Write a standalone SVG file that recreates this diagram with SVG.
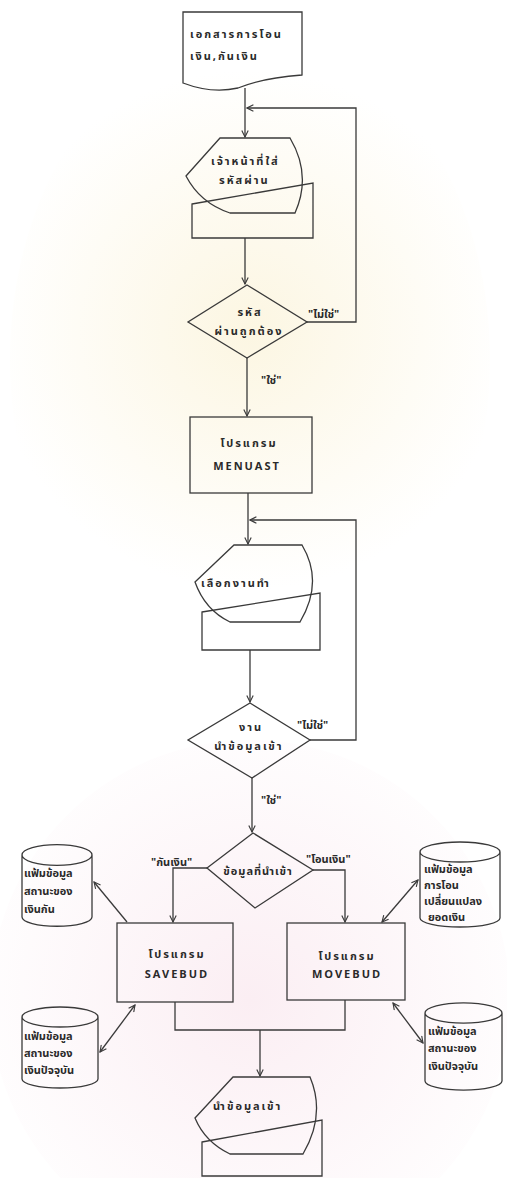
<svg xmlns="http://www.w3.org/2000/svg" width="507" height="1178" viewBox="0 0 507 1178">
<defs>
<style>
.s{fill:none;stroke:#3a3a3a;stroke-width:1.3}
.t{font-family:"Noto Sans Thai","Noto Sans","DejaVu Sans",sans-serif;font-size:11px;fill:#2a2a2a;font-weight:bold}
.w{letter-spacing:2px}
.c{text-anchor:middle}
</style>
<marker id="a" viewBox="0 0 10 10" refX="9" refY="5" markerWidth="8" markerHeight="8" orient="auto-start-reverse" markerUnits="userSpaceOnUse">
<path d="M1,1 L9,5 L1,9" fill="none" stroke="#3a3a3a" stroke-width="1.4"/>
</marker>
<radialGradient id="sun" cx="250" cy="330" r="260" gradientUnits="userSpaceOnUse">
<stop offset="0" stop-color="#fcf6e2"/>
<stop offset="1" stop-color="#ffffff"/>
</radialGradient>
<radialGradient id="pink" cx="250" cy="1000" r="300" gradientUnits="userSpaceOnUse">
<stop offset="0" stop-color="#fbeef3"/>
<stop offset="1" stop-color="#ffffff"/>
</radialGradient>
</defs>
<rect width="507" height="1178" fill="#ffffff"/>
<ellipse cx="250" cy="360" rx="240" ry="330" fill="url(#sun)"/>
<ellipse cx="250" cy="1000" rx="260" ry="260" fill="url(#pink)"/>

<g id="doc1">
<path class="s" d="M183,12 L302,12 L302,75 Q262,78 238,88 Q212,94 183,83 Z"/>
<text class="t w" x="190" y="38">เอกสารการโอน</text>
<text class="t w" x="190" y="60">เงิน,กันเงิน</text>
</g>

<g id="input1">
<path class="s" d="M192,204 L313,183 L313,238 L192,238 Z"/>
<path class="s" d="M186,176 L220,138 L290,138 Q312,175 295,213 L230,213 Q200,203 186,176 Z"/>
<text class="t w" x="211" y="165">เจ้าหน้าที่ใส่</text>
<text class="t w" x="219" y="184">รหัสผ่าน</text>
</g>

<g id="dec1">
<path class="s" d="M247,285 L307,322 L247,358 L188,322 Z"/>
<text class="t c w" x="250" y="316">รหัส</text>
<text class="t c w" x="249" y="335">ผ่านถูกต้อง</text>
</g>

<g id="menuast">
<rect class="s" x="190" y="417" width="122" height="76"/>
<text class="t c w" x="249" y="447">โปรแกรม</text>
<text class="t c w" x="247" y="470">MENUAST</text>
</g>

<g id="input2">
<path class="s" d="M202,612 L320,593 L320,650 L202,650 Z"/>
<path class="s" d="M195,582 L234,545 L302,545 Q324,582 300,622 L230,622 Q205,610 195,582 Z"/>
<text class="t w" x="201" y="587">เลือกงานทำ</text>
</g>

<g id="dec2">
<path class="s" d="M250,703 L310,740 L252,778 L188,740 Z"/>
<text class="t c w" x="251" y="731">งาน</text>
<text class="t c w" x="249" y="750">นำข้อมูลเข้า</text>
</g>

<g id="dec3">
<path class="s" d="M253,833 L313,870 L255,908 L207,868 Z"/>
<text class="t c" x="258" y="875" letter-spacing="1">ข้อมูลที่นำเข้า</text>
</g>

<g id="savebud">
<rect class="s" x="117" y="923" width="116" height="79"/>
<text class="t c w" x="177" y="958">โปรแกรม</text>
<text class="t c w" x="177" y="978">SAVEBUD</text>
</g>

<g id="movebud">
<rect class="s" x="287" y="923" width="118" height="77"/>
<text class="t c w" x="347" y="960">โปรแกรม</text>
<text class="t c w" x="347" y="978">MOVEBUD</text>
</g>

<g id="cyl1">
<path class="s" d="M22,855 A34,10 0 0 1 92,855 L92,917 A34,9 0 0 1 22,917 Z M22,855 A34,10 0 0 0 92,855"/>
<text class="t" x="24" y="877">แฟ้มข้อมูล</text>
<text class="t" x="24" y="895">สถานะของ</text>
<text class="t" x="24" y="913">เงินกัน</text>
</g>

<g id="cyl2">
<path class="s" d="M420,852 A40,10 0 0 1 500,852 L500,918 A40,9 0 0 1 420,918 Z M420,852 A40,10 0 0 0 500,852"/>
<text class="t" x="424" y="873">แฟ้มข้อมูล</text>
<text class="t" x="424" y="889">การโอน</text>
<text class="t" x="424" y="905">เปลี่ยนแปลง</text>
<text class="t" x="428" y="921">ยอดเงิน</text>
</g>

<g id="cyl3">
<path class="s" d="M22,1017 A38,10 0 0 1 98,1017 L98,1079 A38,9 0 0 1 22,1079 Z M22,1017 A38,10 0 0 0 98,1017"/>
<text class="t" x="24" y="1040">แฟ้มข้อมูล</text>
<text class="t" x="24" y="1057">สถานะของ</text>
<text class="t" x="24" y="1074">เงินปัจจุบัน</text>
</g>

<g id="cyl4">
<path class="s" d="M425,1013 A38,10 0 0 1 502,1013 L502,1081 A38,9 0 0 1 425,1081 Z M425,1013 A38,10 0 0 0 502,1013"/>
<text class="t" x="428" y="1035">แฟ้มข้อมูล</text>
<text class="t" x="428" y="1052">สถานะของ</text>
<text class="t" x="428" y="1070">เงินปัจจุบัน</text>
</g>

<g id="input3">
<path class="s" d="M202,1142 L322,1120 L322,1176 L202,1176 Z"/>
<path class="s" d="M195,1118 L233,1077 L310,1077 Q326,1115 303,1154 L230,1154 Q205,1142 195,1118 Z"/>
<text class="t w" x="213" y="1110">นำข้อมูลเข้า</text>
</g>

<g id="connectors">
<path class="s" marker-end="url(#a)" d="M245,88 L245,137"/>
<path class="s" marker-end="url(#a)" d="M307,322 L356,322 L356,108 L247,108"/>
<path class="s" marker-end="url(#a)" d="M245,238 L245,284"/>
<path class="s" marker-end="url(#a)" d="M247,358 L247,416"/>
<path class="s" marker-end="url(#a)" d="M248,493 L248,544"/>
<path class="s" marker-end="url(#a)" d="M310,740 L356,740 L356,520 L250,520"/>
<path class="s" marker-end="url(#a)" d="M250,650 L250,702"/>
<path class="s" marker-end="url(#a)" d="M252,778 L252,832"/>
<path class="s" marker-end="url(#a)" d="M207,868 L173,868 L173,922"/>
<path class="s" marker-end="url(#a)" d="M313,870 L345,870 L345,922"/>
<path class="s" marker-end="url(#a)" d="M127,922 L94,882"/>
<path class="s" marker-start="url(#a)" marker-end="url(#a)" d="M382,922 L418,880"/>
<path class="s" marker-start="url(#a)" marker-end="url(#a)" d="M135,1005 L100,1052"/>
<path class="s" marker-start="url(#a)" marker-end="url(#a)" d="M393,1003 L423,1043"/>
<path class="s" d="M175,1002 L175,1030 L345,1030 L345,1000"/>
<path class="s" marker-end="url(#a)" d="M260,1030 L260,1076"/>
<text class="t" x="308" y="318">"ไม่ใช่"</text>
<text class="t" x="261" y="384">"ใช่"</text>
<text class="t" x="297" y="729">"ไม่ใช่"</text>
<text class="t" x="261" y="804">"ใช่"</text>
<text class="t" x="151" y="866">"กันเงิน"</text>
<text class="t" x="306" y="863">"โอนเงิน"</text>
</g>
</svg>
